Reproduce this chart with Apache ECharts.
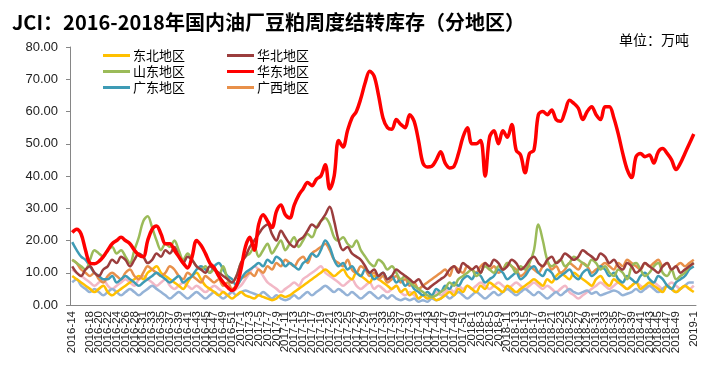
<!DOCTYPE html>
<html><head><meta charset="utf-8">
<script src="https://cdn.jsdelivr.net/npm/echarts@6/dist/echarts.min.js"></script>
<style>html,body{margin:0;padding:0;background:#fff}#c{width:724px;height:381px}</style>
</head><body><div id="c"></div>
<script>
// ---- categories (weekly, with missing weeks) ----
const categories = [];
for (let w = 14; w <= 52; w++) if (w !== 29) categories.push('2016-' + w);
for (let w = 1; w <= 52; w++) categories.push('2017-' + w);
for (let w = 1; w <= 52; w++) if (w !== 6 && w !== 8) categories.push('2018-' + w);
categories.push('2019-1');

const yTicks = [0, 10, 20, 30, 40, 50, 60, 70, 80];

// ---- series values (万吨) ----
const dongbei = [
 9,8,7,6,5,4,5,6,4,3, 4,5,6,7,8,9,8,10,11,12, 10,9,8,7,6,5,7,9,10,8,
 6,5,4,3,4,3,2,3,4,3, 2.5,2,3,2.5,2,1.5,2,3,2.5,3, 4,5,6,7,8,9,10,11,10,9,
 10,11,9,8,10,9,8,7,9,8, 7,6,5,6,4,5,3,4,2,3, 2,2.5,1.5,2,3,4,3,5,4,6,
 5,4,6,5,7,6,5,4,6,5, 4,5,6,7,8,7,6,8,7,9, 10,9,8,10,9,8,7,6,8,9,
 7,6,8,7,6,5,6,7,5,6, 7,6,5,4,6,5,4,5,6,5,4];
const huabei = [
 12,10,9,11,12,10,9,11,12,14, 13,15,14,12,14,16,15,13,14,16, 15,17,16,18,15,13,15,14,12,11,
 10,12,11,10,9,8,7,9,13,15, 18,20,22,24,25,22,20,23,21,19, 18,20,21,23,25,24,26,28,30.5,26,
 20,17,18,16,15,14,12,10,11,9, 10,8,9,11,10,9,8,7,8,6, 5,6,7,8,9,11,12,10,13,12,
 11,12,10,13,12,14,13,11,12,14, 13,11,12,14,15,13,12,14,15,13, 14,16,15,14,15,17,16,15,14,16,
 15,13,14,12,11,13,12,10,11,13, 12,11,10,12,13,11,12,10,11,12,13];
const shandong = [
 14,13,12,11,14,17,16,15,17,18, 16,17,15,13,17,21,26,27.5,24,20, 17,19,18,20,17,14,16,14,12,11,
 12,10,11,9,12,8,7,9,13,15, 16,18,15,17,19,16,18,20,17,19, 21,18,20,22,21,24,26,27,25,21,
 20,21,19,18,20,17,15,13,12,14, 13,11,12,10,8,9,7,6,5,4, 3,2.5,3,4,5,7,6,8,9,10,
 11,9,10,12,11,10,12,11,13,12, 10,12,11,13,17,25,20,14,12,13, 14,12,13,15,14,13,12,14,13,11,
 12,10,9,11,10,8,12,13,11,9, 10,12,13,10,9,11,8,9,10,12,13];
const huadong = [
 22.5,23.5,22,17,13,12.8,13.5,15,17,19, 20,21,20,19,17,15.5,15,20,23.5,24.5, 22,19,19,17,15,13,11.5,15,20,18.5,
 16,13,11.5,9,7,5.5,4.5,6,11,18, 21,17,25,28,26,24,29,31,28,27, 31,34,36,38,37,39,40,43.5,36,40,
 51,49,54,58,60,64,69,72.5,71,65, 58,55,54.5,57.5,56,55,59,57,51,44, 42.8,43,45,47.5,44,42.5,43,47,52,55,
 50,50,51,40,52,54,50,54,52,56, 48,46.5,41,47,48,59,60,59,60.5,57.5, 57,60,63.5,62.5,61,57.5,60,61.5,59,57.5,
 61.5,61.5,58,53,47,42,39.5,46,47,46, 46.5,44,47.5,48.5,47,45,42,44,47,50,53];
const guangdong = [
 19.5,17,15,14,12,10,9,8,8,9, 7,8,9,8,7,6,7,8,9,10, 9,8,7,8,9,7,8,9,11,12,
 11,10,12,13,11,9,8,6,8,10, 11,12,13,12,14,13,15,14,12,13, 12,11,13,14,16,15,17,20,18,14,
 12,13,11,12,10,9,11,10,8,9, 10,8,9,7,8,6,7,5,4,3, 4,3,5,4,6,5,7,6,8,9,
 8,10,9,7,8,9,11,10,8,9, 10,8,9,11,12,10,9,11,10,8, 9,10,11,9,8,10,11,9,10,12,
 11,9,10,8,7,9,8,7,9,10, 8,7,9,8,6,5,7,8,9,11,12];
const guangxi = [
 14,13,11,10,9,10,8,7,9,10, 9,8,10,11,9,8,10,12,11,10, 9,10,12,11,9,8,10,9,8,7,
 9,8,7,8,6,7,5,6,8,9, 10,9,11,10,12,11,13,12,14,13, 12,14,15,13,16,17,18,19,17,14,
 13,12,14,11,10,12,11,9,10,8, 9,7,8,9,7,8,6,7,5,6, 7,8,9,10,11,9,12,11,10,12,
 11,10,12,13,11,12,10,11,13,12, 11,9,10,12,11,10,12,13,11,12, 10,11,13,12,11,13,12,10,11,12,
 13,12,11,13,12,14,13,12,11,13, 12,13,14,12,13,11,12,13,12,13,14];
const other1 = [
 7,8,6,5,4,5,4,3,4,5, 4,3,4,5,4,3,4,5,6,5, 4,3,2,3,4,3,2,3,4,3,
 2,3,4,3,2,3,4,3,4,4.5, 4,3.5,3,4,3,2,3,2,1.5,2, 3,2,3,4,3,4,5,6,5,4,
 5,4,3,4,3,2,3,4,3,2, 3,2,3,2,1.5,2,1.5,2,1,1.5, 1,2,1.5,2,3,2,3,4,3,2,
 3,4,3,2,3,4,3,4,5,4, 3,4,5,4,3,4,3,2,3,4, 3,4,5,4,3.5,4,4.5,3.5,4,3,
 3.5,4,4.5,4,3,3.5,4,5,4,5, 6,5,4,5,6,5,4,5,6,7,7];
const other2 = [
 11,10,9,8,7,6,7,8,6,5, 6,7,8,7,6,8,9,8,7,6, 7,8,6,5,6,7,6,5,6,5,
 4,5,6,5,4,3,4,5,6,8, 10,12,11,9,7,6,5,4,5,6, 7,6,8,9,10,11,12,10,9,8,
 7,6,7,8,6,5,6,7,5,6, 5,4,5,6,4,3,4,3,2,3, 2,3,4,3,4,5,4,6,5,6,
 5,6,7,6,5,6,7,6,5,6, 7,6,5,6,7,6,5,6,5,4, 5,6,4,3,2,3,4,5,6,7,
 6,5,6,7,6,5,6,7,6,5, 6,7,6,5,6,7,6,5,6,5,6];

const seriesDefs = [
  {name: '系列8', data: other2, color: '#F2B8C6', width: 2.5},
  {name: '系列7', data: other1, color: '#95B3D7', width: 2.5},
  {name: '东北地区', data: dongbei, color: '#FFC000', width: 2.5},
  {name: '广西地区', data: guangxi, color: '#E8904A', width: 2.5},
  {name: '广东地区', data: guangdong, color: '#3E9BB5', width: 2.5},
  {name: '山东地区', data: shandong, color: '#9BBB59', width: 2.5},
  {name: '华北地区', data: huabei, color: '#9B3D3D', width: 2.5},
  {name: '华东地区', data: huadong, color: '#FF0000', width: 3.5}
];

const chart = echarts.init(document.getElementById('c'), null, {renderer: 'canvas'});
const legendCommon = {
  orient: 'vertical', itemWidth: 27, itemHeight: 3, icon: 'rect', itemGap: 3, padding: 0,
  textStyle: {fontSize: 13, color: '#000', fontFamily: 'Noto Sans CJK SC', padding: [0, 0, 0, -2]}
};
chart.setOption({
  animation: false,
  backgroundColor: '#fff',
  title: [
    {text: 'JCI：2016-2018年国内油厂豆粕周度结转库存（分地区）', left: 7, top: 7,
     textStyle: {fontSize: 20, fontWeight: 'bold', color: '#000', fontFamily: 'Noto Sans CJK SC'}},
    {text: '单位：万吨', left: 614, top: 28,
     textStyle: {fontSize: 14, fontWeight: 'normal', color: '#000', fontFamily: 'Noto Sans CJK SC'}}
  ],
  legend: [
    Object.assign({left: 103, top: 49, data: ['东北地区', '山东地区', '广东地区']}, legendCommon),
    Object.assign({left: 227, top: 49, data: ['华北地区', '华东地区', '广西地区']}, legendCommon)
  ],
  grid: {left: 70, right: 28, top: 47, bottom: 76},
  xAxis: {
    type: 'category', data: categories, boundaryGap: true,
    axisLine: {lineStyle: {color: '#868686', width: 1}},
    axisTick: {interval: 0, length: 5, lineStyle: {color: '#868686'}},
    axisLabel: {interval: (idx) => idx % 2 === 0, showMinLabel: true, showMaxLabel: true, hideOverlap: false,
      rotate: 90, fontSize: 11.5, color: '#222', margin: 6, fontFamily: 'Liberation Sans'},
    splitLine: {show: false}
  },
  yAxis: {
    type: 'value', min: yTicks[0], max: yTicks[yTicks.length - 1], interval: 10,
    axisLine: {show: true, lineStyle: {color: '#868686', width: 1}},
    axisTick: {show: true, length: 4, lineStyle: {color: '#868686'}},
    axisLabel: {fontSize: 13, color: '#222', margin: 12, fontFamily: 'Liberation Sans',
      formatter: v => v.toFixed(2)},
    splitLine: {show: false}
  },
  series: seriesDefs.map(s => ({
    name: s.name, type: 'line', data: s.data, smooth: 0.35, symbol: 'none',
    lineStyle: {color: s.color, width: s.width}, itemStyle: {color: s.color}
  }))
});
</script></body></html>
